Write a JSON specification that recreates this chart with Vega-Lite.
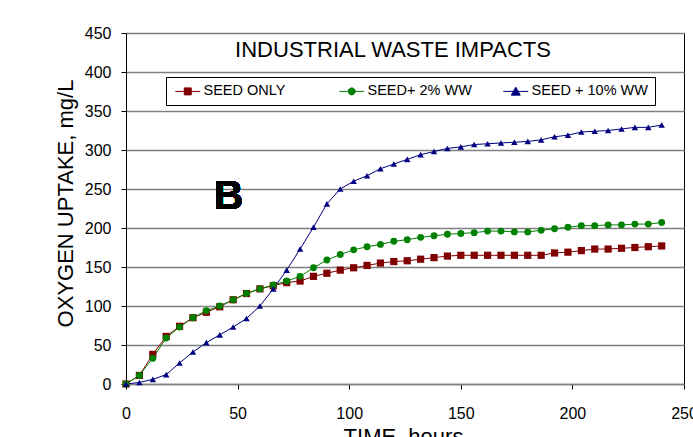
{
  "$schema": "https://vega.github.io/schema/vega-lite/v6.json",
  "width": 558,
  "height": 351,
  "autosize": {"type": "none"},
  "padding": {"left": 126, "top": 33, "right": 9, "bottom": 53},
  "background": "white",
  "title": {"text": "INDUSTRIAL WASTE IMPACTS", "font": "Liberation Sans", "fontSize": 22, "fontWeight": "normal", "color": "black", "anchor": "middle", "offset": -37, "dx": -12},
  "data": {"values": [
    {"t":0,"s":"SEED ONLY","v":0},{"t":6,"s":"SEED ONLY","v":11},{"t":12,"s":"SEED ONLY","v":38},{"t":18,"s":"SEED ONLY","v":61},{"t":24,"s":"SEED ONLY","v":74},{"t":30,"s":"SEED ONLY","v":85},{"t":36,"s":"SEED ONLY","v":92},{"t":42,"s":"SEED ONLY","v":99},{"t":48,"s":"SEED ONLY","v":108},{"t":54,"s":"SEED ONLY","v":116},{"t":60,"s":"SEED ONLY","v":122},{"t":66,"s":"SEED ONLY","v":126},{"t":72,"s":"SEED ONLY","v":130},{"t":78,"s":"SEED ONLY","v":132},{"t":84,"s":"SEED ONLY","v":138},{"t":90,"s":"SEED ONLY","v":142},{"t":96,"s":"SEED ONLY","v":146},{"t":102,"s":"SEED ONLY","v":149},{"t":108,"s":"SEED ONLY","v":152},{"t":114,"s":"SEED ONLY","v":155},{"t":120,"s":"SEED ONLY","v":157},{"t":126,"s":"SEED ONLY","v":158},{"t":132,"s":"SEED ONLY","v":160},{"t":138,"s":"SEED ONLY","v":162},{"t":144,"s":"SEED ONLY","v":164},{"t":150,"s":"SEED ONLY","v":165},{"t":156,"s":"SEED ONLY","v":165},{"t":162,"s":"SEED ONLY","v":165},{"t":168,"s":"SEED ONLY","v":165},{"t":174,"s":"SEED ONLY","v":165},{"t":180,"s":"SEED ONLY","v":165},{"t":186,"s":"SEED ONLY","v":165},{"t":192,"s":"SEED ONLY","v":168},{"t":198,"s":"SEED ONLY","v":169},{"t":204,"s":"SEED ONLY","v":171},{"t":210,"s":"SEED ONLY","v":173},{"t":216,"s":"SEED ONLY","v":173},{"t":222,"s":"SEED ONLY","v":174},{"t":228,"s":"SEED ONLY","v":175},{"t":234,"s":"SEED ONLY","v":176},{"t":240,"s":"SEED ONLY","v":177},
    {"t":0,"s":"SEED+ 2% WW","v":0},{"t":6,"s":"SEED+ 2% WW","v":11},{"t":12,"s":"SEED+ 2% WW","v":33},{"t":18,"s":"SEED+ 2% WW","v":59},{"t":24,"s":"SEED+ 2% WW","v":73},{"t":30,"s":"SEED+ 2% WW","v":85},{"t":36,"s":"SEED+ 2% WW","v":94},{"t":42,"s":"SEED+ 2% WW","v":100},{"t":48,"s":"SEED+ 2% WW","v":108},{"t":54,"s":"SEED+ 2% WW","v":116},{"t":60,"s":"SEED+ 2% WW","v":122},{"t":66,"s":"SEED+ 2% WW","v":127},{"t":72,"s":"SEED+ 2% WW","v":132},{"t":78,"s":"SEED+ 2% WW","v":138},{"t":84,"s":"SEED+ 2% WW","v":149},{"t":90,"s":"SEED+ 2% WW","v":159},{"t":96,"s":"SEED+ 2% WW","v":166},{"t":102,"s":"SEED+ 2% WW","v":172},{"t":108,"s":"SEED+ 2% WW","v":176},{"t":114,"s":"SEED+ 2% WW","v":179},{"t":120,"s":"SEED+ 2% WW","v":183},{"t":126,"s":"SEED+ 2% WW","v":185},{"t":132,"s":"SEED+ 2% WW","v":188},{"t":138,"s":"SEED+ 2% WW","v":190},{"t":144,"s":"SEED+ 2% WW","v":192},{"t":150,"s":"SEED+ 2% WW","v":193},{"t":156,"s":"SEED+ 2% WW","v":194},{"t":162,"s":"SEED+ 2% WW","v":196},{"t":168,"s":"SEED+ 2% WW","v":196},{"t":174,"s":"SEED+ 2% WW","v":195},{"t":180,"s":"SEED+ 2% WW","v":195},{"t":186,"s":"SEED+ 2% WW","v":197},{"t":192,"s":"SEED+ 2% WW","v":199},{"t":198,"s":"SEED+ 2% WW","v":201},{"t":204,"s":"SEED+ 2% WW","v":203},{"t":210,"s":"SEED+ 2% WW","v":203},{"t":216,"s":"SEED+ 2% WW","v":204},{"t":222,"s":"SEED+ 2% WW","v":204},{"t":228,"s":"SEED+ 2% WW","v":205},{"t":234,"s":"SEED+ 2% WW","v":205},{"t":240,"s":"SEED+ 2% WW","v":207},
    {"t":0,"s":"SEED + 10% WW","v":0},{"t":6,"s":"SEED + 10% WW","v":2},{"t":12,"s":"SEED + 10% WW","v":6},{"t":18,"s":"SEED + 10% WW","v":12},{"t":24,"s":"SEED + 10% WW","v":27},{"t":30,"s":"SEED + 10% WW","v":41},{"t":36,"s":"SEED + 10% WW","v":53},{"t":42,"s":"SEED + 10% WW","v":63},{"t":48,"s":"SEED + 10% WW","v":73},{"t":54,"s":"SEED + 10% WW","v":84},{"t":60,"s":"SEED + 10% WW","v":100},{"t":66,"s":"SEED + 10% WW","v":122},{"t":72,"s":"SEED + 10% WW","v":146},{"t":78,"s":"SEED + 10% WW","v":173},{"t":84,"s":"SEED + 10% WW","v":201},{"t":90,"s":"SEED + 10% WW","v":231},{"t":96,"s":"SEED + 10% WW","v":250},{"t":102,"s":"SEED + 10% WW","v":260},{"t":108,"s":"SEED + 10% WW","v":267},{"t":114,"s":"SEED + 10% WW","v":276},{"t":120,"s":"SEED + 10% WW","v":282},{"t":126,"s":"SEED + 10% WW","v":288},{"t":132,"s":"SEED + 10% WW","v":294},{"t":138,"s":"SEED + 10% WW","v":298},{"t":144,"s":"SEED + 10% WW","v":302},{"t":150,"s":"SEED + 10% WW","v":304},{"t":156,"s":"SEED + 10% WW","v":307},{"t":162,"s":"SEED + 10% WW","v":308},{"t":168,"s":"SEED + 10% WW","v":309},{"t":174,"s":"SEED + 10% WW","v":310},{"t":180,"s":"SEED + 10% WW","v":311},{"t":186,"s":"SEED + 10% WW","v":313},{"t":192,"s":"SEED + 10% WW","v":317},{"t":198,"s":"SEED + 10% WW","v":319},{"t":204,"s":"SEED + 10% WW","v":323},{"t":210,"s":"SEED + 10% WW","v":324},{"t":216,"s":"SEED + 10% WW","v":325},{"t":222,"s":"SEED + 10% WW","v":327},{"t":228,"s":"SEED + 10% WW","v":329},{"t":234,"s":"SEED + 10% WW","v":329},{"t":240,"s":"SEED + 10% WW","v":332}
  ]},
  "config": {
    "view": {"stroke": "black", "strokeWidth": 1},
    "axis": {"labelFont": "Liberation Sans", "labelFontSize": 16, "labelColor": "black", "titleFont": "Liberation Sans", "titleFontSize": 22, "titleFontWeight": "normal", "titleColor": "black", "gridColor": "#808080", "gridWidth": 1.5, "gridOpacity": 1, "tickColor": "black", "tickSize": 5, "tickWidth": 1, "domainColor": "black", "domainWidth": 1},
    "legend": {"labelFont": "Liberation Sans", "labelFontSize": 14.5, "labelColor": "black", "labelLimit": 300, "symbolSize": 100, "symbolStrokeWidth": 1, "symbolOpacity": 1, "symbolFillColor": "black", "symbolStrokeColor": "black", "labelOffset": 16, "columnPadding": 17, "padding": 7, "rowPadding": 0, "strokeColor": "black", "fillColor": "white", "gridAlign": "all"}
  },
  "encoding": {
    "x": {"field": "t", "type": "quantitative", "scale": {"domain": [0, 250], "nice": false},
          "axis": {"values": [0, 50, 100, 150, 200, 250], "tickCount": 20, "title": "TIME, hours", "grid": false, "labelPadding": 16, "labelFlush": false, "labelOverlap": false, "domainColor": "#808080", "domainWidth": 1.5, "titleX": 277, "titleY": 59, "titleBaseline": "alphabetic", "titleAnchor": null}},
    "y": {"field": "v", "type": "quantitative", "scale": {"domain": [0, 450], "nice": false},
          "axis": {"values": [0, 50, 100, 150, 200, 250, 300, 350, 400, 450], "tickCount": 20, "labelOverlap": false, "title": "OXYGEN UPTAKE, mg/L", "grid": true, "labelPadding": 10, "titleX": -54, "titleY": 170, "titleBaseline": "alphabetic", "titleAngle": -90, "titleAnchor": null}}
  },
  "layer": [
    {
      "mark": {"type": "line", "strokeWidth": 1},
      "encoding": {
        "color": {"field": "s", "type": "nominal", "scale": {"domain": ["SEED ONLY", "SEED+ 2% WW", "SEED + 10% WW"], "range": ["#800000", "#008000", "#000080"]}, "legend": null}
      }
    },
    {
      "mark": {"type": "point", "filled": true, "opacity": 1},
      "encoding": {
        "color": {"field": "s", "type": "nominal", "legend": null},
        "shape": {"field": "s", "type": "nominal", "scale": {"domain": ["SEED ONLY", "SEED+ 2% WW", "SEED + 10% WW"], "range": ["square", "circle", "triangle-up"]}, "legend": null},
        "size": {"field": "s", "type": "nominal", "scale": {"domain": ["SEED ONLY", "SEED+ 2% WW", "SEED + 10% WW"], "range": [52, 42, 75]}, "legend": null}
      }
    },
    {
      "mark": {"type": "point", "filled": true, "opacity": 0},
      "encoding": {
        "fill": {"field": "s", "type": "nominal", "scale": {"domain": ["SEED ONLY", "SEED+ 2% WW", "SEED + 10% WW"], "range": ["#800000", "#008000", "#000080"]},
                 "legend": {"title": null, "orient": "none", "legendX": 40, "legendY": 44, "direction": "horizontal", "columns": 3}},
        "stroke": {"field": "s", "type": "nominal", "scale": {"domain": ["SEED ONLY", "SEED+ 2% WW", "SEED + 10% WW"], "range": ["#800000", "#008000", "#000080"]},
                 "legend": {"title": null, "orient": "none", "legendX": 40, "legendY": 44, "direction": "horizontal", "columns": 3}},
        "shape": {"field": "s", "type": "nominal", "scale": {"domain": ["SEED ONLY", "SEED+ 2% WW", "SEED + 10% WW"], "range": ["M-1,0H4M0.8,-0.7H2.2V0.7H0.8Z", "M-1,0H4M0.8,0A0.7,0.7,0,1,0,2.2,0A0.7,0.7,0,1,0,0.8,0Z", "M-1,0H4M1.5,-0.85L2.4,0.75L0.6,0.75Z"]},
                 "legend": {"title": null, "orient": "none", "legendX": 40, "legendY": 44, "direction": "horizontal", "columns": 3}}
      }
    },
    {
      "mark": {"type": "text", "text": "B", "font": "Liberation Sans", "fontSize": 40, "fontWeight": "bold", "color": "black", "strokeWidth": 0},
      "encoding": {
        "x": {"datum": 46, "type": "quantitative"},
        "y": {"datum": 240, "type": "quantitative"}
      }
    }
  ],
  "resolve": {"scale": {"shape": "independent", "fill": "independent", "stroke": "independent"}}
}
